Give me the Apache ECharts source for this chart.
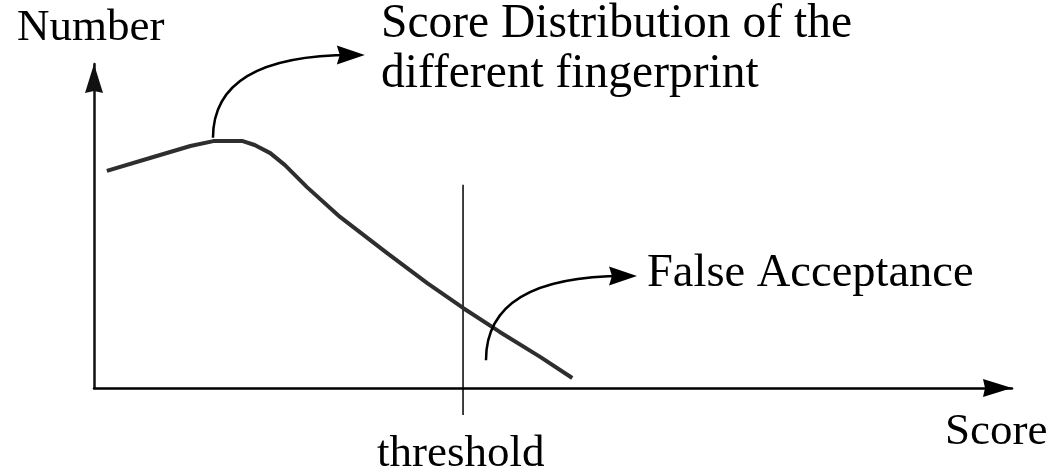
<!DOCTYPE html>
<html>
<head>
<meta charset="utf-8">
<script src="https://cdn.jsdelivr.net/npm/echarts@6/dist/echarts.min.js"></script>
<style>
  html, body { margin: 0; padding: 0; background: #fff; }
  #chart { width: 1054px; height: 476px; }
</style>
</head>
<body>
<div id="chart"></div>
<script>
// score (x) vs number (y), both in 0..100 axis units
const curveScore = [1.4, 6.1, 10.5, 13.0, 16.2, 17.5, 19.2, 20.8, 23.2, 26.8, 31.9, 36.3, 40.2, 44.2, 48.6, 52.1];
const curveNumber = [67.0, 71.0, 74.7, 76.2, 76.2, 75.0, 72.5, 68.8, 62.0, 52.8, 41.7, 32.4, 24.7, 17.3, 9.6, 3.1];

const thresholdScore = 40.2;
const thresholdRange = [62.7, -8.3];

// annotation arrows: [startX, startY, ctrlX, ctrlY, endX, endY]
const annoArrows = [
  [12.96, 77.2, 12.96, 102.8, 29.5, 102.8],
  [42.7, 8.6, 42.7, 34.6, 59.15, 34.6]
];

const SERIF = "'Liberation Serif', 'Times New Roman', serif";
const ARROW = "path://M9,0 L18,29 L9,27 L0,29 Z";

const chart = echarts.init(document.getElementById("chart"));

function label(text, x, y, size) {
  return {
    type: "text",
    x: x,
    y: y,
    style: { text: text, font: size + "px " + SERIF, fill: "#000", verticalAlign: "middle" }
  };
}

chart.setOption({
  animation: false,
  backgroundColor: "#fff",
  grid: { left: 94, right: 42, top: 64, bottom: 88 },
  xAxis: {
    type: "value",
    min: 0,
    max: 100,
    axisLine: {
      lineStyle: { color: "#000", width: 2.5 },
      symbol: ["none", ARROW],
      symbolSize: [18, 29],
      symbolOffset: [0, -14.5]
    },
    axisTick: { show: false },
    axisLabel: { show: false },
    splitLine: { show: false }
  },
  yAxis: {
    type: "value",
    min: 0,
    max: 100,
    axisLine: {
      show: true,
      lineStyle: { color: "#111", width: 2.5 },
      symbol: ["none", ARROW],
      symbolSize: [18, 29],
      symbolOffset: [0, -14.5]
    },
    axisTick: { show: false },
    axisLabel: { show: false },
    splitLine: { show: false }
  },
  series: [
    {
      type: "line",
      data: curveScore.map((s, i) => [s, curveNumber[i]]),
      symbol: "none",
      lineStyle: { color: "#2e2e2e", width: 4 },
      z: 3
    },
    {
      type: "line",
      data: thresholdRange.map((v) => [thresholdScore, v]),
      symbol: "none",
      clip: false,
      lineStyle: { color: "#000", width: 1.5 },
      z: 2
    },
    {
      type: "custom",
      clip: false,
      data: annoArrows,
      z: 4,
      renderItem: (params, api) => {
        const p0 = api.coord([api.value(0), api.value(1)]);
        const c = api.coord([api.value(2), api.value(3)]);
        const p1 = api.coord([api.value(4), api.value(5)]);
        const dx = p1[0] - c[0];
        const dy = p1[1] - c[1];
        const len = Math.sqrt(dx * dx + dy * dy);
        const ux = dx / len;
        const uy = dy / len;
        const headL = 28;
        const headW = 9.5;
        const bx = p1[0] - ux * headL;
        const by = p1[1] - uy * headL;
        const nx = p1[0] - ux * (headL - 3);
        const ny = p1[1] - uy * (headL - 3);
        return {
          type: "group",
          children: [
            {
              type: "bezierCurve",
              shape: {
                x1: p0[0], y1: p0[1],
                cpx1: c[0], cpy1: c[1],
                x2: p1[0] - ux * 12, y2: p1[1] - uy * 12
              },
              style: { stroke: "#000", lineWidth: 2.5, fill: null }
            },
            {
              type: "polygon",
              shape: {
                points: [
                  [p1[0], p1[1]],
                  [bx - uy * headW, by + ux * headW],
                  [nx, ny],
                  [bx + uy * headW, by - ux * headW]
                ]
              },
              style: { fill: "#000" }
            }
          ]
        };
      }
    }
  ],
  graphic: [
    label("Number", 17, 28, 45),
    label("Score Distribution of the", 381, 25, 47.5),
    label("different fingerprint", 381, 75, 47.5),
    label("False Acceptance", 647, 274, 46.5),
    label("Score", 945, 432, 45),
    label("threshold", 377, 454, 45)
  ]
});

window.addEventListener("resize", () => {
  chart && chart.resize();
});
</script>
</body>
</html>
